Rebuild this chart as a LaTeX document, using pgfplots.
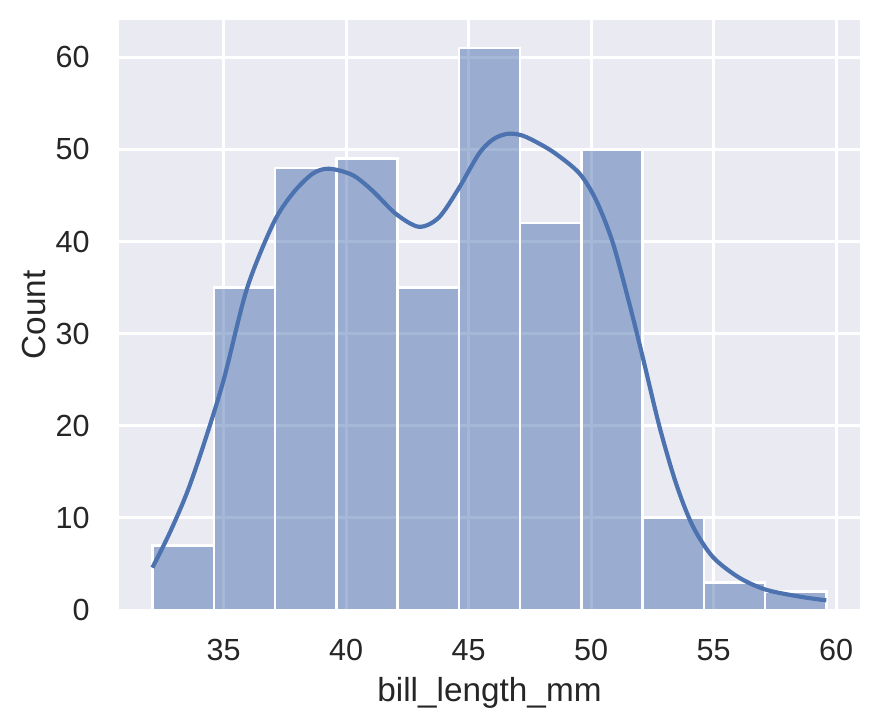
\documentclass[border=0pt]{standalone}
\usepackage{pgfplots}
\pgfplotsset{compat=1.18}
\usepackage{fontspec}
\setmainfont{Liberation Sans}
\definecolor{bgcol}{HTML}{EAEAF2}
\definecolor{sbblue}{HTML}{4C72B0}
\definecolor{txt}{HTML}{262626}
\begin{document}
\begin{tikzpicture}
\begin{axis}[
  name=ax,
  scale only axis,
  width=266.76pt, height=212.4pt,
  xmin=30.725, xmax=60.975,
  ymin=0, ymax=64.05,
  xtick={35,40,45,50,55,60},
  ytick={0,10,20,30,40,50,60},
  axis background/.style={fill=bgcol},
  axis line style={draw=none},
  major tick length=0pt,
  grid=major,
  major grid style={white, line width=1pt},
  /pgf/number format/assume math mode=true,
  tick label style={font=\fontsize{11}{13}\selectfont, text=txt, inner sep=0pt},
  xticklabel style={anchor=north, yshift=-10.4pt},
  yticklabel style={anchor=east, xshift=-10.4pt},
  xlabel={bill\_length\_mm},
  ylabel={Count},
  label style={font=\fontsize{12}{14}\selectfont, text=txt, inner sep=0pt},
  xlabel style={at={(axis description cs:0.5,0)}, anchor=north, yshift=-24pt},
  ylabel style={at={(axis description cs:0,0.5)}, anchor=north, yshift=34.9pt},
]
\addplot[ybar interval, fill=sbblue, fill opacity=0.5, draw=white, line width=0.9pt] coordinates {
(32.1,7) (34.6,35) (37.1,48) (39.6,49) (42.1,35) (44.6,61) (47.1,42) (49.6,50) (52.1,10) (54.6,3) (57.1,2) (59.6,2)
};
\addplot[smooth, sbblue, line width=1.5pt] coordinates {
(32.09,4.6) (32.8,8.4) (33.51,12.8) (34.2,18.1) (35.0,25.0) (35.95,34.9) (37.03,42.0) (37.84,45.3) (38.65,47.4) (39.32,47.9) (40.27,47.2) (41.08,45.5) (42.03,43.0) (42.97,41.6) (43.78,42.6) (44.59,45.75) (45.41,49.5) (46.0,51.1) (46.6,51.7) (47.2,51.5) (47.9,50.6) (48.57,49.5) (49.52,47.4) (50.2,44.5) (50.88,39.9) (51.56,33.25) (52.11,27.4) (52.79,19.9) (53.47,13.7) (54.15,9.1) (54.97,5.75) (56.05,3.5) (57.14,2.2) (58.5,1.46) (59.6,1.04)
};
\end{axis}
\pgfresetboundingbox
\path[use as bounding box] ([shift={(-42.84pt,-40.32pt)}]ax.south west) rectangle ([shift={(7.2pt,7.2pt)}]ax.north east);
\end{tikzpicture}
\end{document}
